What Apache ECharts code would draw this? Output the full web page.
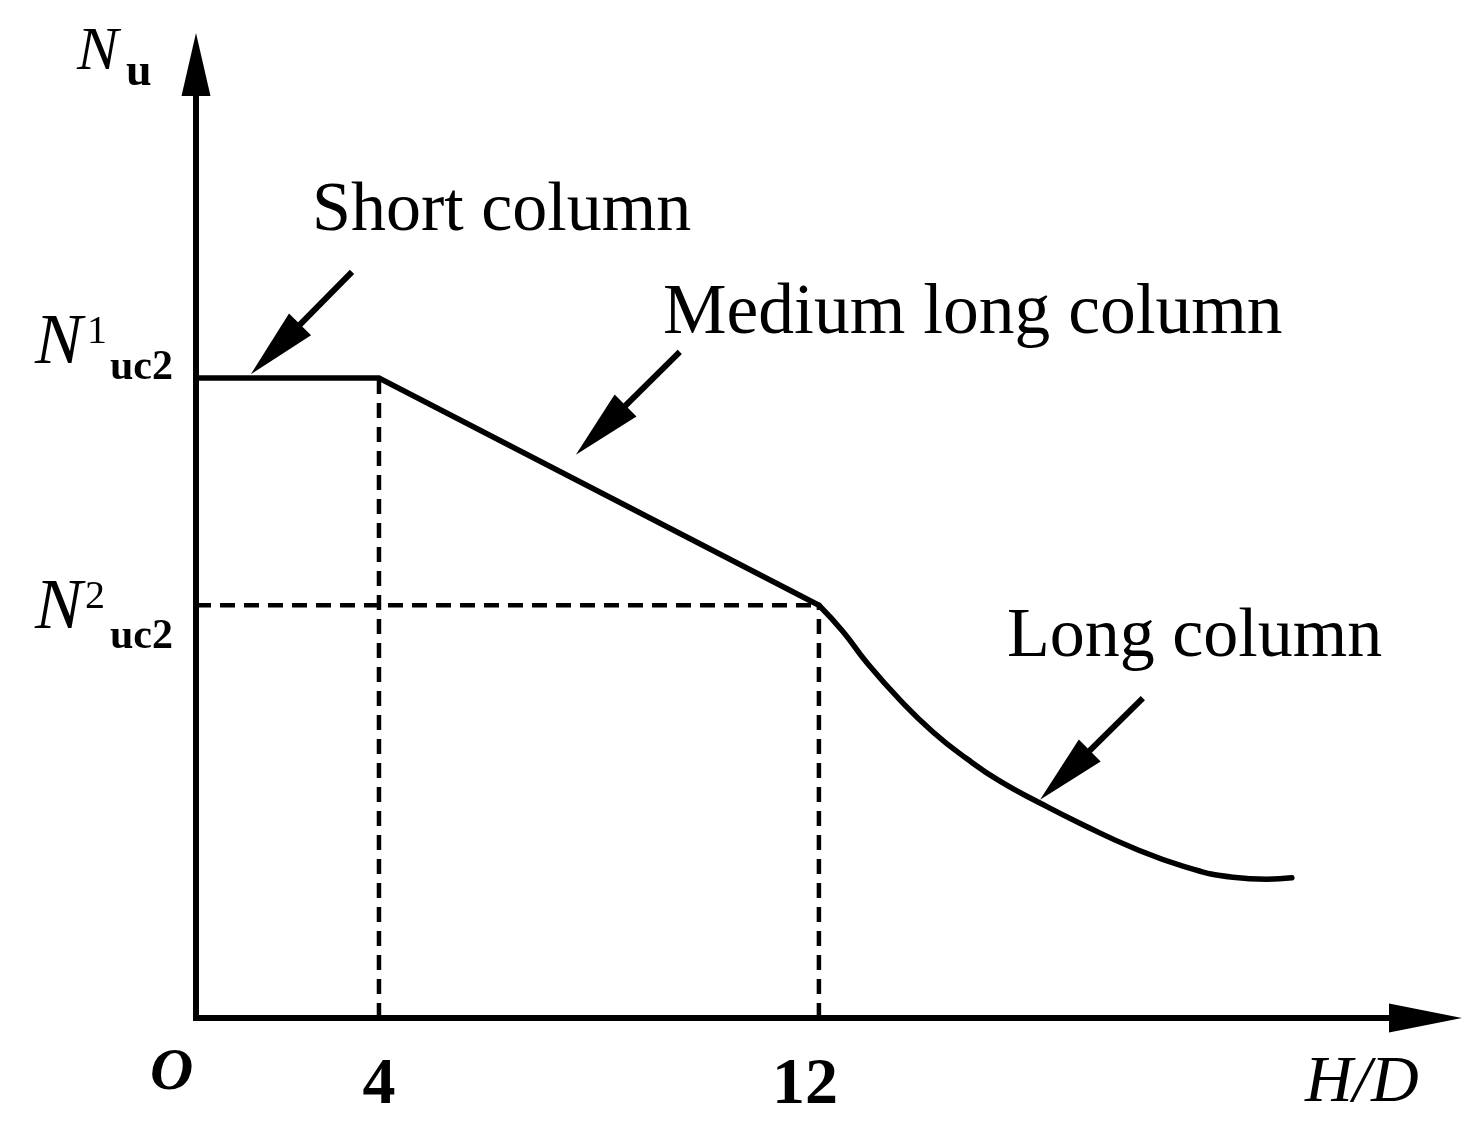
<!DOCTYPE html>
<html><head><meta charset="utf-8">
<script src="https://cdn.jsdelivr.net/npm/echarts@6/dist/echarts.min.js"></script>
<style>html,body{margin:0;padding:0;background:#fff;}#c{width:1481px;height:1145px;}</style>
</head><body><div id="c"></div>
<script>
// ---- data (schematic, H/D on x, Nu normalised to N1uc2 = 1 on y) ----
const xTickValues = [4, 12];
const xTickLabels = ['4', '12'];
const N1uc2 = 1.0;
const N2uc2 = 0.645;
const xStart = 0.673;          // where the drawn x axis begins
const xEnd = 23.03;
const yEnd = 1.49;
const shortMediumLine = [[0.673, 1.0], [4, 1.0], [12, 0.645]];
const longColumnCurve = [[12, 0.645], [12.436, 0.604], [12.873, 0.555], [13.473, 0.497], [14.073, 0.447],
  [14.691, 0.405], [15.291, 0.370], [16.018, 0.336], [16.8, 0.302], [17.709, 0.266], [18.618, 0.2375],
  [19.527, 0.220], [20.145, 0.217], [20.6, 0.219]];
const guideV4 = [[4, 0], [4, 1.0]];
const guideV12 = [[12, 0], [12, 0.645]];
const guideH2 = [[0.673, 0.645], [12, 0.645]];
const annotationNames = ['Short column', 'Medium long column', 'Long column'];
const annotationTails = [[3.51, 1.166], [9.47, 1.041], [17.89, 0.50]];
const annotationTips = [[1.67, 1.006], [7.58, 0.880], [16.02, 0.341]];

const SERIF = '"Liberation Serif", "Times New Roman", serif';
const chart = echarts.init(document.getElementById('c'), null, {renderer: 'canvas'});

const lineStyleSolid = {color: '#000', width: 5.5, cap: 'round', join: 'miter'};
const lineStyleDash = {color: '#000', width: 4.5, type: [15, 9]};

chart.setOption({
  animation: false,
  backgroundColor: '#fff',
  grid: {left: 196, right: 55.5, top: 64.5, bottom: 127, containLabel: false},
  xAxis: {
    type: 'value', min: xStart, max: xEnd,
    axisLine: {onZero: false, show: true, symbol: ['none', 'triangle'], symbolSize: [29, 73],
      lineStyle: {color: '#000', width: 6, cap: 'square'}},
    axisTick: {show: false}, splitLine: {show: false},
    axisLabel: {
      customValues: xTickValues, margin: 35,
      formatter: function (v) {
        const i = xTickValues.indexOf(v);
        return i === 1 ? '{t12|' + xTickLabels[i] + '}' : '{t|' + xTickLabels[i] + '}';
      },
      rich: {
        t: {fontFamily: SERIF, fontWeight: 'bold', fontSize: 66, color: '#000'},
        t12: {fontFamily: SERIF, fontWeight: 'bold', fontSize: 66, color: '#000', padding: [0, 28, 0, 0]}
      }
    }
  },
  yAxis: {
    type: 'value', min: 0, max: yEnd,
    axisLine: {onZero: false, show: true, symbol: ['none', 'triangle'], symbolSize: [29, 63],
      lineStyle: {color: '#000', width: 6, cap: 'square'}},
    axisTick: {show: false}, splitLine: {show: false}, axisLabel: {show: false}
  },
  series: [
    {type: 'line', data: guideV4, symbol: 'none', lineStyle: lineStyleDash, z: 1},
    {type: 'line', data: guideV12, symbol: 'none', lineStyle: lineStyleDash, z: 1},
    {type: 'line', data: guideH2, symbol: 'none', lineStyle: lineStyleDash, z: 1},
    {type: 'line', data: shortMediumLine, symbol: 'none', lineStyle: lineStyleSolid, z: 3},
    {type: 'line', data: longColumnCurve, symbol: 'none', smooth: 0.5, lineStyle: lineStyleSolid, z: 3}
  ]
});

function txt(text, left, baseline, size, weight, style) {
  return {
    type: 'text', z: 10, silent: true,
    style: {
      text: text, x: left, y: baseline - 0.32 * size,
      fill: '#000', align: 'left', verticalAlign: 'middle',
      font: (style || 'normal') + ' ' + (weight || 'normal') + ' ' + size + 'px ' + SERIF
    }
  };
}

const els = [];
// annotation arrows from data anchors
for (let i = 0; i < annotationNames.length; i++) {
  const t = chart.convertToPixel({gridIndex: 0}, annotationTails[i]);
  const p = chart.convertToPixel({gridIndex: 0}, annotationTips[i]);
  const dx = p[0] - t[0], dy = p[1] - t[1];
  const L = Math.sqrt(dx * dx + dy * dy);
  const ux = dx / L, uy = dy / L;
  const headLen = 70, headHalf = 15.5;
  const bx = p[0] - headLen * ux, by = p[1] - headLen * uy;
  els.push({type: 'line', z: 9, silent: true,
    shape: {x1: t[0], y1: t[1], x2: bx + ux * 4, y2: by + uy * 4},
    style: {stroke: '#000', lineWidth: 6}});
  els.push({type: 'polygon', z: 9, silent: true,
    shape: {points: [[p[0], p[1]], [bx - uy * headHalf, by + ux * headHalf], [bx + uy * headHalf, by - ux * headHalf]]},
    style: {fill: '#000'}});
}
// annotation texts
els.push(txt(annotationNames[0], 312, 234, 70));
els.push(txt(annotationNames[1], 663, 337, 71.5));
els.push(txt(annotationNames[2], 1007, 660, 70));
// axis titles
els.push(txt('N', 77, 73, 62, 'normal', 'italic'));
els.push(txt('u', 126, 88, 46, 'bold'));
els.push(txt('H/D', 1305, 1105, 66, 'normal', 'italic'));
els.push(txt('O', 150, 1093, 60, 'bold', 'italic'));
// level labels
const y1 = chart.convertToPixel({gridIndex: 0}, [xStart, N1uc2])[1];
const y2 = chart.convertToPixel({gridIndex: 0}, [xStart, N2uc2])[1];
els.push(txt('N', 35, y1 - 11, 71, 'normal', 'italic'));
els.push(txt('1', 87, y1 - 33, 40));
els.push(txt('uc2', 110, y1 + 4, 42, 'bold'));
els.push(txt('N', 35, y2 + 27, 71, 'normal', 'italic'));
els.push(txt('2', 85, y2 + 5, 40));
els.push(txt('uc2', 110, y2 + 45, 42, 'bold'));

chart.setOption({graphic: {elements: els}});
</script></body></html>
